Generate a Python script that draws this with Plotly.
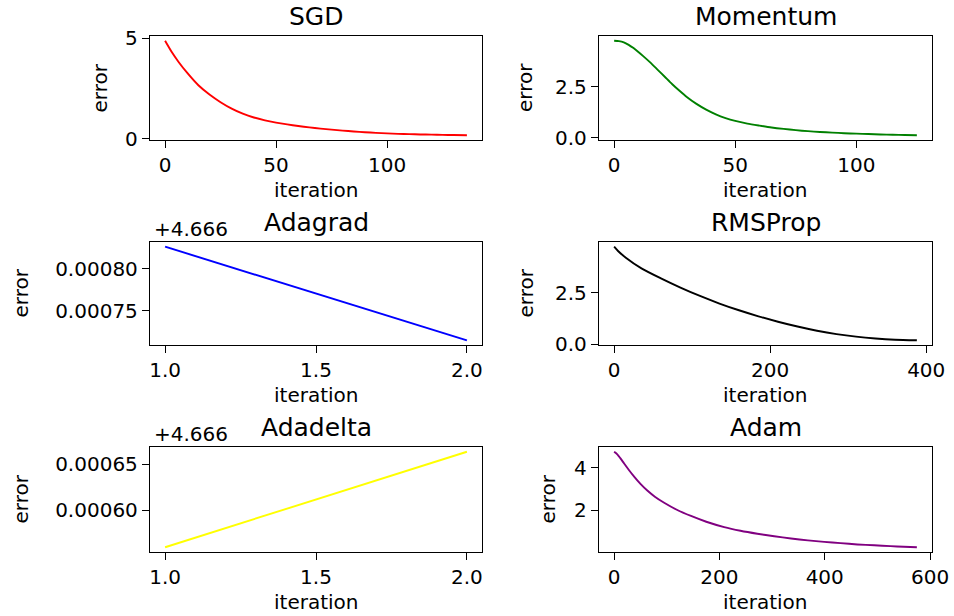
import plotly.graph_objects as go

W, H = 954, 616

# ---------------- data ----------------
titles = ["SGD", "Momentum", "Adagrad", "RMSProp", "Adadelta", "Adam"]
colors = ["#ff0000", "#008000", "#0000ff", "#000000", "#ffff00", "#800080"]

sgd_iter = [0, 3, 6, 10, 15, 20, 25, 30, 35, 40, 45, 50, 55, 60, 65, 70, 75, 80,
            85, 90, 95, 100, 105, 110, 115, 120, 125, 130, 136]
sgd_err = [4.87, 4.31, 3.83, 3.27, 2.66, 2.20, 1.82, 1.50, 1.25, 1.06, 0.92, 0.81,
           0.72, 0.64, 0.57, 0.51, 0.46, 0.41, 0.37, 0.33, 0.30, 0.275, 0.25, 0.235,
           0.22, 0.21, 0.20, 0.19, 0.18]

mom_iter = [0, 2, 4, 6, 8, 10, 12, 15, 18, 21, 24, 27, 30, 34, 38, 42, 46, 50, 55,
            60, 65, 70, 75, 80, 85, 90, 95, 100, 105, 110, 115, 120, 125]
mom_err = [4.74, 4.72, 4.66, 4.54, 4.38, 4.19, 3.99, 3.67, 3.32, 2.97, 2.62, 2.30,
           2.00, 1.66, 1.38, 1.15, 0.97, 0.83, 0.70, 0.60, 0.51, 0.44, 0.38, 0.33,
           0.29, 0.26, 0.23, 0.21, 0.19, 0.17, 0.155, 0.14, 0.13]

adagrad_iter = [1, 2]
adagrad_err = [4.666826, 4.666715]

rms_iter = [0, 5, 15, 35, 60, 85, 110, 135, 160, 185, 210, 235, 260, 285, 310, 335,
            360, 388]
rms_err = [4.76, 4.55, 4.22, 3.70, 3.21, 2.76, 2.35, 1.98, 1.65, 1.355, 1.09, 0.855,
           0.65, 0.485, 0.36, 0.27, 0.21, 0.18]

adadelta_iter = [1, 2]
adadelta_err = [4.6665595, 4.6666636]

adam_iter = [0, 6, 12, 19, 28, 38, 50, 63, 78, 95, 120, 146, 175, 209, 240, 272,
             304, 336, 368, 399, 430, 462, 494, 525, 550, 575]
adam_err = [4.74, 4.62, 4.43, 4.19, 3.89, 3.58, 3.24, 2.93, 2.63, 2.36, 2.02, 1.74,
            1.47, 1.22, 1.05, 0.91, 0.79, 0.69, 0.60, 0.53, 0.47, 0.41, 0.37, 0.33,
            0.30, 0.28]

# tick labels
sgd_xticks = [0, 50, 100]
sgd_yticks = [0, 5]
sgd_yticktext = ["0", "5"]
mom_xticks = [0, 50, 100]
mom_yticks = [0.0, 2.5]
mom_yticktext = ["0.0", "2.5"]
adagrad_xticks = [1.0, 1.5, 2.0]
adagrad_xticktext = ["1.0", "1.5", "2.0"]
adagrad_yticks = [4.66675, 4.66680]
adagrad_yticktext = ["0.00075", "0.00080"]
rms_xticks = [0, 200, 400]
rms_yticks = [0.0, 2.5]
rms_yticktext = ["0.0", "2.5"]
adadelta_xticks = [1.0, 1.5, 2.0]
adadelta_xticktext = ["1.0", "1.5", "2.0"]
adadelta_yticks = [4.66660, 4.66665]
adadelta_yticktext = ["0.00060", "0.00065"]
adam_xticks = [0, 200, 400, 600]
adam_yticks = [2, 4]
adam_yticktext = ["2", "4"]
offset_text = "+4.666"
x_label = "iteration"
y_label = "error"

series = [
    (sgd_iter, sgd_err, sgd_xticks, [str(v) for v in sgd_xticks], sgd_yticks, sgd_yticktext),
    (mom_iter, mom_err, mom_xticks, [str(v) for v in mom_xticks], mom_yticks, mom_yticktext),
    (adagrad_iter, adagrad_err, adagrad_xticks, adagrad_xticktext, adagrad_yticks, adagrad_yticktext),
    (rms_iter, rms_err, rms_xticks, [str(v) for v in rms_xticks], rms_yticks, rms_yticktext),
    (adadelta_iter, adadelta_err, adadelta_xticks, adadelta_xticktext, adadelta_yticks, adadelta_yticktext),
    (adam_iter, adam_err, adam_xticks, [str(v) for v in adam_xticks], adam_yticks, adam_yticktext),
]

# ---------------- layout geometry (pixels) ----------------
cols = [(150, 482), (599, 932)]
rows = [(36, 140), (242, 345), (447, 552)]
ylabel_x = [99.5, 525, 20, 525, 20, 547]
FONT = "DejaVu Sans"
TICK_FS = 20
TITLE_FS = 25
INK = "#000000"


def px(x):
    return x / W


def py(y):
    return 1 - y / H


def padded(vals):
    lo, hi = min(vals), max(vals)
    span = hi - lo
    return [lo - 0.05 * span, hi + 0.05 * span]


fig = go.Figure()
layout = {}
annotations = []

for i, (xs, ys, xt, xtt, yt, ytt) in enumerate(series):
    r, c = divmod(i, 2)
    n = i + 1
    xa = f"x{n}" if n > 1 else "x"
    ya = f"y{n}" if n > 1 else "y"
    fig.add_trace(go.Scatter(
        x=xs, y=ys, mode="lines", xaxis=xa, yaxis=ya,
        line=dict(color=colors[i], width=1.9, shape="spline", smoothing=0.7),
        showlegend=False, hoverinfo="skip"))
    x0, x1 = cols[c]
    y0, y1 = rows[r]
    axis_common = dict(
        automargin=False,
        showline=True, mirror=True, linecolor=INK, linewidth=1.3,
        ticks="outside", ticklen=7, tickwidth=1.3, tickcolor=INK,
        showgrid=False, zeroline=False,
        tickfont=dict(family=FONT, size=TICK_FS, color=INK),
    )
    layout[f"xaxis{n}" if n > 1 else "xaxis"] = dict(
        domain=[px(x0), px(x1)], anchor=ya, range=padded(xs),
        tickmode="array", tickvals=xt, ticktext=xtt, **axis_common)
    layout[f"yaxis{n}" if n > 1 else "yaxis"] = dict(
        domain=[py(y1), py(y0)], anchor=xa, range=padded(ys),
        tickmode="array", tickvals=yt, ticktext=ytt, **axis_common)

    # title
    annotations.append(dict(
        text=titles[i], x=px((x0 + x1) / 2), y=py(y0 - 19.5), xref="paper", yref="paper",
        xanchor="center", yanchor="middle", showarrow=False,
        font=dict(family=FONT, size=TITLE_FS, color=INK)))
    # x label
    annotations.append(dict(
        text=x_label, x=px((x0 + x1) / 2), y=py(y1 + 50), xref="paper", yref="paper",
        xanchor="center", yanchor="middle", showarrow=False,
        font=dict(family=FONT, size=TICK_FS, color=INK)))
    # y label
    annotations.append(dict(
        text=y_label, x=px(ylabel_x[i]), y=py((y0 + y1) / 2), xref="paper", yref="paper",
        xanchor="center", yanchor="middle", textangle=-90, showarrow=False,
        font=dict(family=FONT, size=TICK_FS, color=INK)))
    # offset text
    if titles[i] in ("Adagrad", "Adadelta"):
        annotations.append(dict(
            text=offset_text, x=px(x0 + 2), y=py(y0 - 13), xref="paper", yref="paper",
            xanchor="left", yanchor="middle", showarrow=False,
            font=dict(family=FONT, size=TICK_FS, color=INK)))

fig.update_layout(
    template="none",
    width=W, height=H,
    margin=dict(l=0, r=0, t=0, b=0, autoexpand=False),
    paper_bgcolor="white", plot_bgcolor="white",
    annotations=annotations,
    **layout,
)

fig.write_html("out.html", config={"displayModeBar": False})
